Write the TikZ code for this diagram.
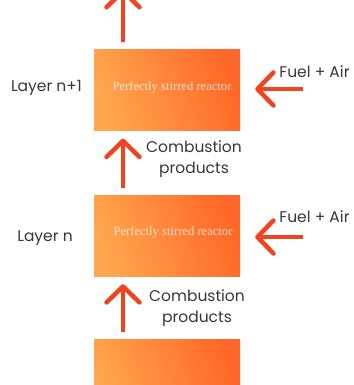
\documentclass[tikz,border=0pt]{standalone}
\usepackage{fontspec}
\setmainfont{Poppins}
\newfontfamily\psrfont{Liberation Serif}
\usetikzlibrary{arrows.meta}
\definecolor{boxlight}{RGB}{255,166,78}
\definecolor{boxdark}{RGB}{255,104,40}
\definecolor{flowred}{RGB}{242,67,32}
\definecolor{labelgray}{RGB}{55,55,55}
\begin{document}
\begin{tikzpicture}[x=1pt,y=-1pt,
  every node/.style={font=\fontsize{15.5}{18}\selectfont,text=labelgray,inner sep=0pt},
  psr/.style={rectangle,minimum width=146pt,minimum height=81pt,inner sep=0pt,
    left color=boxlight,right color=boxdark,shading angle=110},
  psrtext/.style={font=\psrfont\fontsize{12.6}{15}\selectfont,text=white,text opacity=0.75},
  flow/.style={draw=flowred,line width=4.5pt,-{Straight Barb[length=16pt,width=33pt,round]}}]
\useasboundingbox (0,0) rectangle (353,385);
\clip (0,0) rectangle (353,385);
\fill[white] (0,0) rectangle (353,385);
% reactors
\node[psr] (up) at (167,90) {};
\node[psrtext] at (172,87) {Perfectly stirred reactor};
\node[psr] (mid) at (167,235.5) {};
\node[psrtext] at (173,232) {Perfectly stirred reactor};
\node[psr] (low) at (167,380) {};
% layer labels
\node (lup) at (46.5,88) {Layer n+1};
\node (lmid) at (45,238) {Layer n};
% vertical flows
\coordinate (top) at (123,-11);
\draw[flow,shorten <=7pt] ([xshift=-44pt]up.north) -- (top);
\draw[flow,shorten <=7pt,shorten >=8pt] ([xshift=-44pt]mid.north) -- ([xshift=-44pt]up.south);
\draw[flow,shorten <=7pt,shorten >=8pt] ([xshift=-44pt]low.north) -- ([xshift=-44pt]mid.south);
\node[align=center,font=\fontsize{15.5}{21.5}\selectfont] (cp1) at (194,159) {Combustion\\products};
\node[align=center,font=\fontsize{15.5}{21.5}\selectfont] (cp2) at (197,308) {Combustion\\products};
% fuel feeds
\node (fa1) at (314.5,72) {Fuel + Air};
\node (fa2) at (314.5,217) {Fuel + Air};
\coordinate (in1) at (303,89);
\coordinate (in2) at (303,237);
\draw[flow,shorten >=15pt] (in1) -- (in1 -| up.east);
\draw[flow,shorten >=15pt] (in2) -- (in2 -| mid.east);
\end{tikzpicture}
\end{document}
